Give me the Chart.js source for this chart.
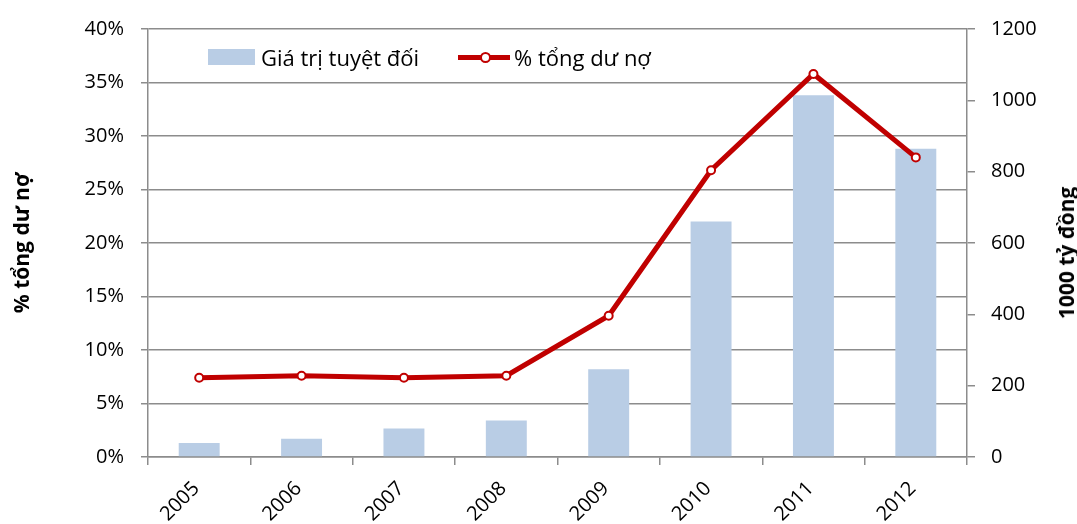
<!DOCTYPE html>
<html>
<head>
<meta charset="utf-8">
<script src="https://cdn.jsdelivr.net/npm/chart.js@4/dist/chart.umd.min.js"></script>
<style>
  html, body { margin: 0; padding: 0; background: #fff; }
  #wrap { position: relative; width: 1077px; height: 524px; overflow: hidden; }
  canvas { position: absolute; left: 0; top: 0; }
  .legend { position: absolute; top: 44px; height: 26px; display: flex; align-items: center;
            font-family: "Open Sans", sans-serif; font-size: 22px; color: #000; white-space: nowrap; }
  .rtitle { position: absolute; left: 1066px; top: 253px; transform: translate(-50%, -50%) rotate(-90deg);
            font-family: "Open Sans", sans-serif; font-weight: bold; font-size: 21px; white-space: nowrap; color:#000; }
</style>
</head>
<body>
<div id="wrap">
  <canvas id="c" width="1077" height="524"></canvas>
  <div class="legend" style="left:208px;">
    <span style="display:inline-block;width:47px;height:16px;background:#B9CDE5;margin-right:6px;"></span>
    <span id="lg1"></span>
  </div>
  <div class="legend" style="left:458px;">
    <span style="position:relative;display:inline-block;width:52px;height:16px;margin-right:4px;">
      <span style="position:absolute;left:0;top:6px;width:52px;height:5px;background:#C00000;"></span>
      <span style="position:absolute;left:22px;top:3px;width:7px;height:7px;border:2px solid #C00000;border-radius:50%;background:#fff;"></span>
    </span>
    <span id="lg2"></span>
  </div>
  <div class="rtitle" id="rt"></div>
</div>
<script>
const categories = ["2005", "2006", "2007", "2008", "2009", "2010", "2011", "2012"];
const absoluteValues = [39, 51, 80, 102, 246, 660, 1014, 864];
const percentValues = [7.4, 7.6, 7.4, 7.6, 13.2, 26.8, 35.8, 28.0];
const leftTicks = [0, 5, 10, 15, 20, 25, 30, 35, 40];
const rightTicks = [0, 200, 400, 600, 800, 1000, 1200];
const leftTitle = "% tổng dư nợ";
const rightTitle = "1000 tỷ đồng";
const barLabel = "Giá trị tuyệt đối";
const lineLabel = "% tổng dư nợ";

document.getElementById('lg1').textContent = barLabel;
document.getElementById('lg2').textContent = lineLabel;
document.getElementById('rt').textContent = rightTitle;

const FONT = "'Open Sans', sans-serif";
const GRID = '#8c8c8c';

new Chart(document.getElementById('c'), {
  type: 'bar',
  data: {
    labels: categories,
    datasets: [
      {
        type: 'line', label: lineLabel, data: percentValues, yAxisID: 'y',
        borderColor: '#C00000', borderWidth: 5, backgroundColor: '#ffffff',
        pointRadius: 4, pointBorderWidth: 2, pointBorderColor: '#C00000', pointBackgroundColor: '#ffffff',
        tension: 0, order: 0
      },
      {
        type: 'bar', label: barLabel, data: absoluteValues, yAxisID: 'y1',
        backgroundColor: '#B9CDE5', borderWidth: 0,
        categoryPercentage: 1.0, barPercentage: 0.4, order: 1
      }
    ]
  },
  options: {
    responsive: false, animation: false,
    layout: { padding: { top: 27, left: 0, right: 0, bottom: 0 } },
    plugins: { legend: { display: false }, tooltip: { enabled: false } },
    scales: {
      x: {
        offset: true,
        grid: { offset: true, drawOnChartArea: false, color: GRID, tickLength: 8, lineWidth: 1.5 },
        border: { color: GRID, width: 1.5 },
        ticks: { font: { family: FONT, size: 20 }, color: '#000', minRotation: 45, maxRotation: 45, padding: 12, labelOffset: -3 },
        afterFit: s => { s.height = 67; }
      },
      y: {
        position: 'left', min: 0, max: 40,
        afterBuildTicks: s => { s.ticks = leftTicks.map(v => ({ value: v })); },
        ticks: { callback: v => v + '%', font: { family: FONT, size: 20 }, color: '#000', padding: 17 },
        grid: { color: GRID, tickLength: 7, lineWidth: 1.5 },
        border: { color: GRID, width: 1.5 },
        title: { display: true, text: leftTitle, font: { family: FONT, size: 21, weight: 'bold' }, color: '#000', padding: { top: 10, bottom: 0 } },
        afterFit: s => { s.width = 148; }
      },
      y1: {
        position: 'right', min: 0, max: 1200,
        afterBuildTicks: s => { s.ticks = rightTicks.map(v => ({ value: v })); },
        ticks: { callback: v => String(v), font: { family: FONT, size: 20 }, color: '#000', padding: 16 },
        grid: { drawOnChartArea: false, color: GRID, tickLength: 8, lineWidth: 1.5 },
        border: { color: GRID, width: 1.5 },
        afterFit: s => { s.width = 110; }
      }
    }
  }
});
</script>
</body>
</html>
